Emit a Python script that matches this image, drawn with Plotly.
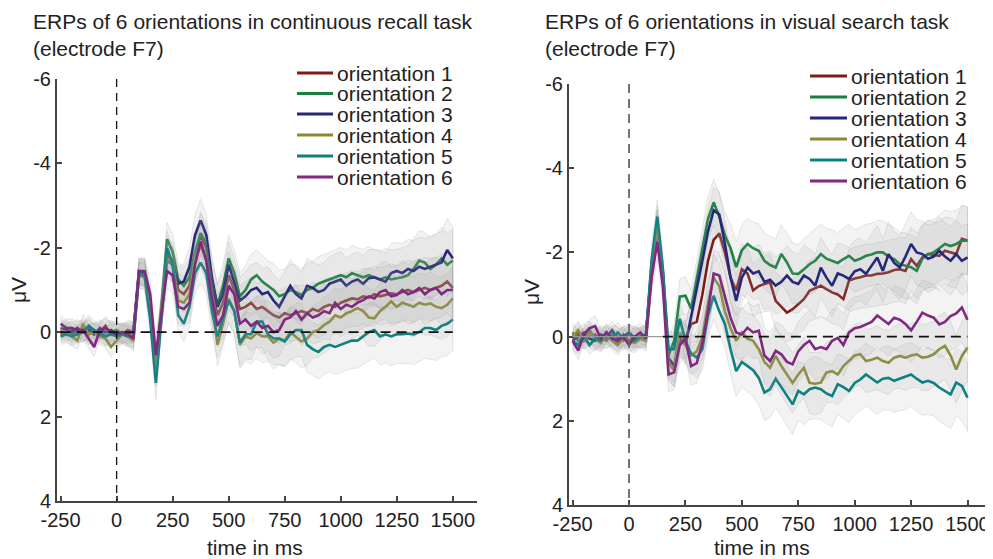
import plotly.graph_objects as go

# ---------------- data ----------------
time_ms = list(range(-250, 1501, 25))  # sampling grid, 71 points

orient_names = ["orientation 1", "orientation 2", "orientation 3",
                "orientation 4", "orientation 5", "orientation 6"]
orient_colors = ["#7f1a1a", "#1a8040", "#26287a", "#8a8a35", "#0f8080", "#7f2a80"]

# continuous recall task (left panel), values in microvolts
recall_o1 = [0.05, 0.0, -0.05, 0.05, 0.0, -0.1, 0.05, 0.0, -0.15, 0.05, 0.0, 0.05, -0.05, 0.0,
             -1.4, -1.4, -0.6, 0.75, -0.55, -1.85, -1.7, -1.0, -0.9, -1.1, -1.8, -2.3, -2.0, -1.0, -0.4, -0.7, -1.35,
             -1.0, -0.55, -0.6, -0.7, -0.55, -0.6, -0.5, -0.4, -0.35, -0.45, -0.4, -0.45, -0.5, -0.45, -0.55, -0.5, -0.6, -0.65, -0.6, -0.7,
             -0.75, -0.8, -0.78, -0.85, -0.82, -0.9, -0.85, -0.88, -0.92, -0.9, -0.95, -1.0, -0.95, -1.0, -1.05, -1.0, -1.05, -1.1, -1.2, -1.05]
recall_o2 = [0.0, -0.1, 0.05, 0.0, -0.1, 0.05, 0.0, -0.05, 0.1, 0.0, -0.05, 0.05, 0.0, 0.0,
             -1.45, -1.4, -0.6, 0.8, -0.6, -2.2, -1.9, -1.25, -1.1, -1.3, -1.9, -2.35, -2.1, -1.2, -0.65, -1.1, -1.75,
             -1.4, -0.85, -1.0, -1.25, -1.35, -1.2, -1.1, -1.0, -0.85, -0.9, -1.0, -0.95, -0.88, -1.0, -1.05, -1.15, -1.2, -1.25, -1.3, -1.35,
             -1.3, -1.4, -1.35, -1.3, -1.35, -1.3, -1.25, -1.3, -1.25, -1.28, -1.3, -1.35, -1.5, -1.7, -1.65, -1.5, -1.6, -1.75, -1.6, -1.7]
recall_o3 = [-0.1, -0.05, 0.0, -0.1, 0.0, -0.05, 0.05, -0.1, 0.0, -0.05, 0.05, 0.0, 0.05, 0.0,
             -1.45, -1.4, -0.6, 0.8, -0.4, -1.7, -1.6, -1.15, -1.2, -1.55, -2.3, -2.65, -2.3, -1.3, -0.6, -0.9, -1.6,
             -1.2, -0.75, -0.85, -1.0, -1.05, -0.9, -0.95, -0.75, -0.6, -0.85, -1.1, -0.9, -0.8, -1.1, -1.05, -0.95, -1.0, -1.15, -1.2, -1.25,
             -1.1, -1.2, -1.25, -1.15, -1.28, -1.3, -1.25, -1.2, -1.4, -1.45, -1.4, -1.5, -1.45, -1.55, -1.5, -1.55, -1.6, -1.65, -1.95, -1.75]
recall_o4 = [-0.05, 0.0, 0.1, 0.2, -0.2, 0.05, 0.0, 0.1, 0.15, 0.35, 0.2, 0.05, 0.1, 0.2,
             -1.35, -1.3, -0.5, 0.9, -0.5, -1.75, -1.6, -0.75, -0.7, -0.9, -1.7, -2.05, -1.7, -0.7, 0.3, -0.2, -0.8,
             -0.5, 0.3, 0.1, 0.15, 0.02, 0.1, 0.1, 0.25, 0.15, 0.2, 0.0, 0.1, 0.22, 0.15, 0.0, -0.05, -0.17, -0.25, -0.4, -0.35,
             -0.45, -0.5, -0.57, -0.5, -0.35, -0.33, -0.5, -0.6, -0.73, -0.6, -0.7, -0.65, -0.6, -0.7, -0.65, -0.68, -0.6, -0.57, -0.65, -0.8]
recall_o5 = [0.1, 0.05, 0.1, 0.05, 0.0, -0.15, -0.05, 0.05, 0.1, 0.05, 0.1, 0.05, 0.1, 0.1,
             -1.35, -1.35, -0.3, 1.2, -0.3, -2.0, -1.6, -0.4, -0.2, -0.6, -1.4, -1.65, -1.4, -0.5, 0.1, -0.3, -0.75,
             -0.5, 0.25, 0.05, 0.05, -0.25, -0.25, 0.05, 0.15, 0.15, 0.22, 0.05, -0.05, -0.05, 0.3, 0.4, 0.47, 0.35, 0.3, 0.35, 0.3,
             0.25, 0.2, 0.2, 0.1, 0.0, -0.05, 0.1, 0.05, 0.1, 0.05, 0.05, 0.03, 0.05, 0.0, -0.1, -0.1, -0.05, -0.15, -0.2, -0.3]
recall_o6 = [-0.2, -0.1, -0.1, -0.05, -0.05, 0.15, 0.35, -0.05, -0.1, 0.0, 0.05, 0.0, 0.05, 0.15,
             -1.45, -1.45, -0.9, 0.55, -0.5, -1.45, -1.35, -0.6, -0.55, -0.7, -1.6, -2.15, -1.7, -0.8, -0.15, -0.4, -1.1,
             -0.9, -0.2, -0.3, -0.15, -0.25, -0.1, -0.15, 0.0, -0.05, -0.3, -0.35, -0.5, -0.3, -0.45, -0.35, -0.4, -0.5, -0.45, -0.7, -0.55,
             -0.65, -0.6, -0.7, -0.76, -0.85, -0.8, -0.95, -1.0, -0.85, -0.88, -1.0, -0.9, -0.95, -1.05, -0.9, -1.0, -1.05, -0.9, -1.0, -1.0]
recall_sem = [0.2, 0.2, 0.22, 0.2, 0.22, 0.24, 0.22, 0.2, 0.22, 0.24, 0.22, 0.22, 0.24, 0.25,
              0.3, 0.32, 0.35, 0.4, 0.38, 0.4, 0.42, 0.4, 0.42, 0.45, 0.48, 0.5, 0.48, 0.5, 0.5, 0.52, 0.55,
              0.55, 0.55, 0.58, 0.6, 0.6, 0.62, 0.6, 0.62, 0.62, 0.6, 0.62, 0.64, 0.62, 0.64, 0.62, 0.64, 0.65, 0.64, 0.65, 0.66,
              0.65, 0.66, 0.65, 0.66, 0.68, 0.66, 0.68, 0.68, 0.7, 0.68, 0.7, 0.7, 0.72, 0.7, 0.72, 0.74, 0.72, 0.74, 0.75, 0.74]

# visual search task (right panel)
search_o1 = [0.05, -0.1, 0.1, 0.0, -0.05, 0.1, 0.05, 0.0, 0.15, -0.05, 0.1, 0.0, 0.05, 0.0,
             -1.6, -2.5, -1.4, 0.6, 0.8, 0.1, 0.05, -0.3, -0.35, -1.0, -1.8, -2.3, -2.45, -2.0, -1.4, -1.1, -1.6,
             -1.5, -1.1, -1.2, -1.25, -1.29, -0.85, -0.7, -0.57, -0.65, -0.77, -0.89, -1.09, -1.15, -1.21, -1.13, -1.05, -1.0, -0.89, -1.33, -1.38,
             -1.41, -1.45, -1.45, -1.49, -1.5, -1.53, -1.58, -1.6, -1.56, -1.84, -1.68, -1.88, -1.96, -1.94, -1.92, -2.04, -2.0, -1.96, -2.32, -2.28]
search_o2 = [-0.1, 0.1, 0.0, -0.15, 0.05, 0.0, 0.1, -0.05, 0.0, 0.1, -0.05, 0.0, 0.05, 0.0,
             -1.7, -2.7, -1.5, 0.45, 0.1, -0.95, -0.97, -0.66, -1.35, -2.1, -2.8, -3.19, -2.85, -2.4, -2.1, -1.65, -2.05,
             -2.2, -2.1, -2.04, -1.8, -1.7, -1.64, -1.96, -1.76, -1.5, -1.49, -1.6, -1.72, -1.8, -1.96, -1.85, -1.8, -1.75, -1.84, -1.92, -1.8,
             -1.85, -1.92, -1.95, -2.0, -2.0, -1.9, -1.84, -1.72, -1.68, -1.65, -1.56, -1.85, -1.96, -2.0, -2.1, -2.2, -2.15, -2.2, -2.28, -2.28]
search_o3 = [0.1, 0.0, -0.1, 0.05, 0.1, -0.05, 0.0, -0.15, 0.05, 0.0, -0.1, 0.05, 0.0, -0.05,
             -1.6, -2.6, -1.5, 0.5, 0.7, 0.0, 0.2, -0.45, -1.1, -1.8, -2.5, -3.0, -2.9, -2.2, -1.4, -0.85, -1.4,
             -1.64, -1.5, -1.55, -1.3, -1.35, -1.21, -1.3, -1.45, -1.3, -1.25, -1.45, -1.37, -1.21, -1.64, -1.4, -1.21, -1.5, -1.45, -1.37, -1.55,
             -1.6, -1.49, -1.7, -1.88, -1.56, -1.96, -1.75, -1.64, -1.9, -2.2, -2.0, -1.96, -1.85, -1.9, -2.04, -1.9, -1.8, -1.96, -1.8, -1.88]
search_o4 = [0.0, -0.15, 0.1, -0.1, 0.05, 0.15, -0.05, 0.1, 0.2, 0.05, 0.1, 0.15, 0.05, 0.1,
             -1.5, -2.6, -1.4, 0.6, 0.8, -0.1, 0.2, 0.45, 0.35, 0.0, -0.8, -1.4, -1.2, -0.6, -0.2, 0.1, -0.1,
             0.05, 0.1, 0.3, 0.6, 0.74, 0.46, 0.7, 0.9, 1.1, 0.9, 0.74, 1.1, 1.12, 1.09, 0.85, 0.82, 0.9, 0.7, 0.58, 0.45,
             0.42, 0.58, 0.55, 0.5, 0.58, 0.62, 0.5, 0.46, 0.5, 0.45, 0.42, 0.5, 0.48, 0.42, 0.3, 0.22, 0.45, 0.78, 0.46, 0.26]
search_o5 = [0.1, 0.2, 0.0, 0.2, 0.05, 0.1, -0.1, 0.05, -0.1, 0.05, -0.05, 0.1, 0.0, -0.05,
             -1.8, -2.85, -1.6, 0.3, 0.3, -0.42, 0.1, 0.4, 0.5, 0.3, -0.5, -0.97, -0.6, -0.3, 0.3, 0.82, 0.6,
             0.7, 0.8, 0.98, 1.33, 1.25, 1.0, 1.2, 1.4, 1.61, 1.29, 1.37, 1.25, 1.21, 1.25, 1.35, 1.41, 1.13, 1.2, 1.29, 1.1,
             1.02, 0.9, 1.0, 1.09, 1.0, 0.98, 1.05, 1.0, 0.95, 0.9, 1.0, 1.09, 1.05, 1.1, 1.21, 1.3, 1.37, 1.09, 1.17, 1.45]
search_o6 = [0.1, 0.33, -0.05, -0.2, -0.25, 0.05, -0.1, 0.05, 0.1, 0.0, 0.2, 0.0, -0.1, 0.05,
             -1.4, -2.25, -1.2, 0.9, 0.85, 0.2, 0.05, 0.7, 0.63, 0.15, -0.6, -1.5, -1.45, -0.95, -0.45, -0.1, -0.05,
             -0.21, -0.1, -0.14, 0.45, 0.58, 0.34, 0.42, 0.6, 0.66, 0.35, 0.2, 0.1, 0.3, 0.25, 0.3, 0.1, 0.03, 0.2, -0.1, -0.2,
             -0.23, -0.29, -0.35, -0.5, -0.4, -0.3, -0.45, -0.4, -0.3, -0.15, -0.35, -0.57, -0.5, -0.45, -0.29, -0.35, -0.49, -0.55, -0.69, -0.4]
search_sem = [0.22, 0.22, 0.2, 0.22, 0.24, 0.22, 0.2, 0.22, 0.24, 0.22, 0.22, 0.24, 0.22, 0.24,
              0.35, 0.4, 0.38, 0.42, 0.4, 0.42, 0.45, 0.45, 0.48, 0.5, 0.52, 0.55, 0.55, 0.55, 0.58, 0.6, 0.6,
              0.6, 0.62, 0.64, 0.66, 0.68, 0.68, 0.7, 0.7, 0.72, 0.7, 0.72, 0.72, 0.74, 0.72, 0.72, 0.74, 0.72, 0.74, 0.75, 0.74,
              0.74, 0.75, 0.74, 0.76, 0.75, 0.76, 0.75, 0.76, 0.78, 0.76, 0.78, 0.78, 0.8, 0.78, 0.8, 0.8, 0.82, 0.8, 0.82, 0.8]

recall_series = [recall_o1, recall_o2, recall_o3, recall_o4, recall_o5, recall_o6]
search_series = [search_o1, search_o2, search_o3, search_o4, search_o5, search_o6]

x_ticks = [-250, 0, 250, 500, 750, 1000, 1250, 1500]
x_tick_labels = ["-250", "0", "250", "500", "750", "1000", "1250", "1500"]
y_ticks = [-6, -4, -2, 0, 2, 4]
y_tick_labels = ["-6", "-4", "-2", "0", "2", "4"]

titles = ["ERPs of 6 orientations in continuous recall task<br>(electrode F7)",
          "ERPs of 6 orientations in visual search task<br>(electrode F7)"]

# ---------------- figure ----------------
# the page body has an 8px default margin, so the figure is drawn 8px in
OFF = 8
W, H = 993 - OFF, 559 - OFF
ML, MR = 57 - OFF, 0
MT = 79 - OFF
PLOT_BOTTOM = 506 - OFF
MB = H - PLOT_BOTTOM
PW, PH = W - ML - MR, PLOT_BOTTOM - MT


def px(xp):
    """screen pixel x -> paper coordinate"""
    return (xp - OFF - ML) / PW


def py(yp):
    """screen pixel y -> paper coordinate"""
    return (PLOT_BOTTOM - (yp - OFF)) / PH


FONT = "Liberation Sans, Arial, Helvetica, sans-serif"
fig = go.Figure()

for panel, (series, sem, xa, ya) in enumerate(
        [(recall_series, recall_sem, "x", "y"), (search_series, search_sem, "x2", "y2")]):
    for k, vals in enumerate(series):
        upper = [v - s for v, s in zip(vals, sem)]
        lower = [v + s for v, s in zip(vals, sem)]
        fig.add_trace(go.Scatter(
            x=time_ms + time_ms[::-1], y=upper + lower[::-1],
            fill="toself", fillcolor="rgba(165,165,165,0.13)",
            line=dict(color="rgba(150,150,150,0.28)", width=0.8),
            mode="lines", hoverinfo="skip", showlegend=False,
            xaxis=xa, yaxis=ya))
        fig.add_trace(go.Scatter(
            x=time_ms, y=vals, mode="lines",
            line=dict(color=orient_colors[k], width=2.6),
            name=orient_names[k], showlegend=False,
            xaxis=xa, yaxis=ya))

axis_common = dict(showline=True, linecolor="#444444", linewidth=2,
                   ticks="inside", ticklen=5, tickwidth=1.5, tickcolor="#444444",
                   showgrid=False, zeroline=False,
                   tickfont=dict(family=FONT, size=20, color="#222222"))

fig.update_layout(
    width=W, height=H,
    margin=dict(l=ML, r=MR, t=MT, b=MB, pad=0),
    paper_bgcolor="white", plot_bgcolor="white",
    showlegend=False,
    font=dict(family=FONT, size=20, color="#222222"),
    xaxis=dict(domain=[0, px(477)], range=[-266, 1608], anchor="y",
               tickvals=x_ticks, ticktext=x_tick_labels, **axis_common),
    yaxis=dict(domain=[py(501), py(79)], range=[4, -6], anchor="x",
               tickvals=y_ticks, ticktext=y_tick_labels, **axis_common),
    xaxis2=dict(domain=[px(569), 1.0], range=[-266, 1613], anchor="y2",
                tickvals=x_ticks, ticktext=x_tick_labels, **axis_common),
    yaxis2=dict(domain=[py(505), py(84)], range=[4, -6], anchor="x2",
                tickvals=y_ticks, ticktext=y_tick_labels, **axis_common),
)

shapes = []
# zero lines
shapes.append(dict(type="line", xref="x", yref="y", x0=-250, x1=1500, y0=0, y1=0,
                   line=dict(color="#111111", width=1.8, dash="10px,6px")))
shapes.append(dict(type="line", xref="x2", yref="y2", x0=-250, x1=150, y0=0, y1=0,
                   line=dict(color="#999999", width=1.2)))
shapes.append(dict(type="line", xref="x2", yref="y2", x0=150, x1=1500, y0=0, y1=0,
                   line=dict(color="#111111", width=1.8, dash="10px,6px")))
# stimulus onset
shapes.append(dict(type="line", xref="x", yref="y", x0=0, x1=0, y0=-6, y1=4,
                   line=dict(color="#111111", width=1.3, dash="8px,6px")))
shapes.append(dict(type="line", xref="x2", yref="y2", x0=0, x1=0, y0=-6, y1=4,
                   line=dict(color="#666666", width=1.8, dash="9px,6px")))

annotations = []
# legends (drawn manually)
legend_specs = [(297, 333, 335, [73, 93.5, 114, 135, 156, 177]),
                (810, 847, 849, [76, 97, 118, 139, 160, 181])]
for (lx0, lx1, tx, ys) in legend_specs:
    for k, yy in enumerate(ys):
        shapes.append(dict(type="line", xref="paper", yref="paper",
                           x0=px(lx0), x1=px(lx1), y0=py(yy), y1=py(yy),
                           line=dict(color=orient_colors[k], width=2.8)))
        annotations.append(dict(x=px(tx), y=py(yy), xref="paper", yref="paper",
                                text=orient_names[k], showarrow=False,
                                xanchor="left", yanchor="middle",
                                font=dict(family=FONT, size=21, color="#222222")))

# titles
for xt, ttl in [(31, titles[0]), (543, titles[1])]:
    annotations.append(dict(x=px(xt), y=py(35), xref="paper", yref="paper",
                            text=ttl, showarrow=False, align="left",
                            xanchor="left", yanchor="middle",
                            font=dict(family=FONT, size=21, color="#222222")))
# axis titles
for xl, yl in [(18, 290), (531, 292)]:
    annotations.append(dict(x=px(xl), y=py(yl), xref="paper", yref="paper",
                            text="μV", showarrow=False, textangle=-90,
                            xanchor="center", yanchor="middle",
                            font=dict(family=FONT, size=21, color="#222222")))
for xl in [255, 762]:
    annotations.append(dict(x=px(xl), y=py(547), xref="paper", yref="paper",
                            text="time in ms", showarrow=False,
                            xanchor="center", yanchor="middle",
                            font=dict(family=FONT, size=21, color="#222222")))

fig.update_layout(shapes=shapes, annotations=annotations)
fig.write_html("out.html")
